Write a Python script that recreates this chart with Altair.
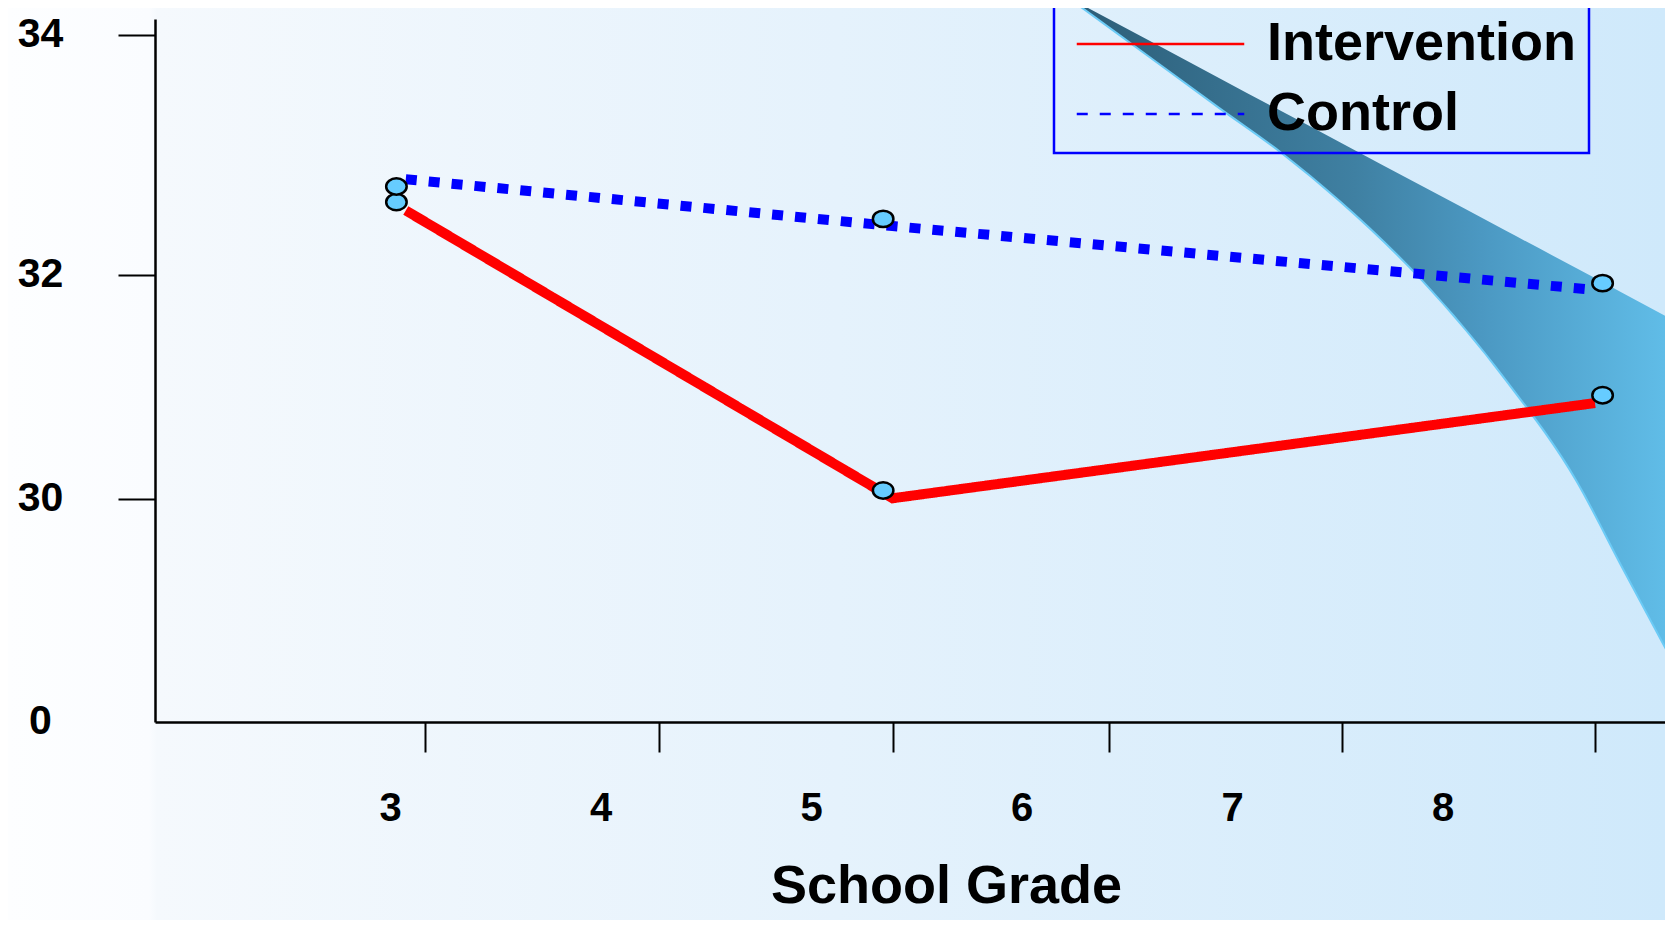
import altair as alt
import pandas as pd

# ---- data ----
series_names = ["Intervention", "Control"]
series_colors = ["#ff0000", "#0000ff"]

line_grades = [2.92, 5.0, 8.0]
intervention_line = [32.54, 30.01, 30.86]
control_line = [32.80, 32.41, 31.87]

marker_grades = [2.88, 4.96, 8.03]
intervention_marker = [32.61, 30.08, 30.93]
control_marker = [32.74, 32.47, 31.93]

grade_ticks = [3, 4, 5, 6, 7, 8]
grade_labels = ["3", "4", "5", "6", "7", "8"]
score_ticks = [0, 30, 32, 34]

# decorative swoosh (grade / score units)
wedge_grade = [5.834, 6.176, 6.476, 6.747, 6.991, 7.320, 7.652, 7.929, 8.111, 8.308]
wedge_top = [34.293, 33.952, 33.640, 33.360, 33.108, 32.739, 32.367, 32.056, 31.840, 31.601]
wedge_bottom = [34.293, 33.825, 33.399, 33.019, 32.627, 31.958, 31.066, 30.173, 20.889, 8.356]

# ---- tables ----
lines_df = pd.DataFrame({
    "grade": line_grades * 2,
    "score": intervention_line + control_line,
    "series": [series_names[0]] * 3 + [series_names[1]] * 3,
})
markers_df = pd.DataFrame({
    "grade": marker_grades * 2,
    "score": intervention_marker + control_marker,
})
wedge_df = pd.DataFrame({"grade": wedge_grade, "score": wedge_top, "bottom": wedge_bottom})
labels_df = pd.DataFrame({"grade": grade_ticks, "label": grade_labels})

W, H = 1510, 703
FONT = "Liberation Sans"

x_scale = alt.Scale(domain=[1.8483, 3, 5, 6, 7, 8, 8.2767],
                    range=[0, 269.5, 737.5, 954, 1187, 1440, W])
y_scale = alt.Scale(domain=[0, 30, 32, 34, 34.135],
                    range=[H, 480.4, 256.3, 16.2, 0])

x_axis = alt.Axis(values=grade_ticks, labels=False, grid=False, zindex=1,
                  domainColor="black", domainWidth=2.5,
                  tickColor="black", tickWidth=2, tickSize=30,
                  title="School Grade", titleFont=FONT, titleFontSize=54,
                  titleFontWeight="bold", titleColor="black",
                  titleX=791, titleY=164, titleAlign="center", titleBaseline="middle")
y_axis = alt.Axis(values=score_ticks, grid=False, title=None, zindex=1,
                  domainColor="black", domainWidth=2.5,
                  tickColor="black", tickWidth=2, tickSize=37,
                  tickOpacity={"condition": {"test": "datum.value == 0", "value": 0}, "value": 1},
                  labelFont=FONT, labelFontSize=41, labelFontWeight="bold", labelColor="black",
                  labelAlign="center", labelBaseline="middle", labelPadding=78, labelOffset=-1)

X = alt.X("grade:Q", scale=x_scale, axis=x_axis)
Y = alt.Y("score:Q", scale=y_scale, axis=y_axis)

legend = alt.Legend(title=None, orient="none", legendX=899, legendY=-14,
                    padding=12, rowPadding=16, clipHeight=54,
                    symbolType="stroke", symbolSize=28056,
                    symbolStrokeWidth=2.5, symbolOffset=9.5, labelOffset=21.5,
                    labelFont=FONT, labelFontSize=54, labelFontWeight="bold",
                    labelColor="black", labelBaseline="middle", labelLimit=1000,
                    strokeColor="#0000ff")

bg_gradient = alt.LinearGradient(
    gradient="linear", x1=0, x2=1, y1=0, y2=0,
    stops=[alt.GradientStop(color="#fdfeff", offset=0),
           alt.GradientStop(color="#fafcff", offset=0.085),
           alt.GradientStop(color="#f5f9fd", offset=0.09),
           alt.GradientStop(color="#e5f2fc", offset=0.5),
           alt.GradientStop(color="#cfe9fb", offset=1)])
wedge_gradient = alt.LinearGradient(
    gradient="linear", x1=0, x2=1, y1=0, y2=0,
    stops=[alt.GradientStop(color="#2c5d77", offset=0),
           alt.GradientStop(color="#3f80a2", offset=0.47),
           alt.GradientStop(color="#4b98c2", offset=0.68),
           alt.GradientStop(color="#61bee9", offset=1)])

bg = alt.Chart(pd.DataFrame({"k": [0]})).mark_rect(fill=bg_gradient).encode(
    x=alt.value(-147), x2=alt.value(W), y=alt.value(-11), y2=alt.value(H + 198))

wedge_rim = alt.Chart(wedge_df).mark_line(color="#6ccbf6", strokeWidth=4, interpolate="monotone").encode(
    x=X, y=alt.Y("bottom:Q", scale=y_scale, axis=y_axis))
wedge = alt.Chart(wedge_df).mark_area(fill=wedge_gradient, interpolate="monotone", opacity=1).encode(
    x=X, y=Y, y2="bottom:Q")

lines = alt.Chart(lines_df).mark_line(strokeWidth=10, strokeCap="butt").encode(
    x=X, y=Y,
    color=alt.Color("series:N", scale=alt.Scale(domain=series_names, range=series_colors), legend=legend),
    strokeDash=alt.StrokeDash("series:N", scale=alt.Scale(domain=series_names, range=[[1, 0], [11, 12]]),
                              legend=legend))

ellipse = "M-1,0A1,0.8,0,1,1,1,0A1,0.8,0,1,1,-1,0Z"
points = alt.Chart(markers_df).mark_point(shape=ellipse, filled=True, fill="#66ccff", stroke="#000000",
                                          strokeWidth=2.5, size=420, opacity=1).encode(x=X, y=Y)

main = alt.layer(wedge_rim, wedge, lines, points)

labels = alt.Chart(labels_df).mark_text(font=FONT, fontSize=40, fontWeight="bold", color="black",
                                        baseline="middle", align="center").encode(
    x=alt.X("grade:Q", scale=alt.Scale(domain=[1.881, 9.054]), axis=None),
    y=alt.value(790),
    text="label:N")

chart = alt.layer(bg, main, labels).resolve_scale(x="independent").properties(
    width=W, height=H,
    autosize=alt.AutoSizeParams(type="none"),
    padding={"left": 147, "top": 11, "right": 0, "bottom": 198},
).configure_view(strokeWidth=0).configure_legend(strokeWidth=2.5)

chart.save("out.html", embed_options={"renderer": "svg", "actions": False})
